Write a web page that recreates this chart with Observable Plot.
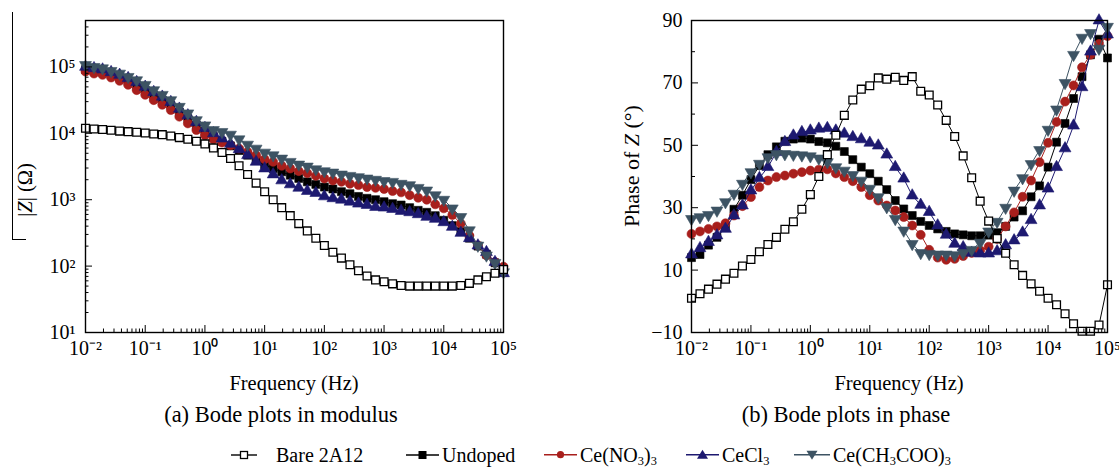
<!DOCTYPE html>
<html>
<head>
<meta charset="utf-8">
<script src="https://cdn.jsdelivr.net/npm/d3@7"></script>
<script src="https://cdn.jsdelivr.net/npm/@observablehq/plot@0.6"></script>
<style>
  body { margin: 0; background: #fff; }
  #wrap { position: relative; width: 1119px; height: 468px; overflow: hidden; background: #fff;
          font-family: "Liberation Serif", "Times New Roman", serif; color: #000; }
  .abs { position: absolute; white-space: nowrap; line-height: 1.2; }
  .ctr { transform: translate(-50%, -50%); }
  .rot { transform: translate(-50%, -50%) rotate(-90deg); }
  .lab { font-size: 20.5px; }
  .cap { font-size: 22.5px; }
  .leg { position: absolute; display: flex; align-items: center; font-size: 20px; line-height: 1.2; white-space: nowrap; transform: translateY(-50%); }
  .leg svg { display: block; }
  sub { font-size: 0.62em; vertical-align: -0.28em; line-height: 0.9; }
</style>
</head>
<body>
<div id="wrap">
  <div id="pa" class="abs" style="left:0;top:0"></div>
  <div id="pb" class="abs" style="left:600px;top:0"></div>

  <div class="abs" style="left:12px;top:12px;height:227px;border-left:1.3px solid #000"></div>
  <div class="abs" style="left:12px;top:239px;width:14px;border-top:1.3px solid #000"></div>
  <div class="abs rot lab" style="left:25px;top:190px">|<i>Z</i>| (Ω)</div>
  <div class="abs rot" style="left:632px;top:166px;font-size:22px">Phase of <i>Z</i> (°)</div>

  <div class="abs ctr lab" style="left:294px;top:383px">Frequency (Hz)</div>
  <div class="abs ctr lab" style="left:899px;top:383px">Frequency (Hz)</div>
  <div class="abs ctr cap" style="left:281px;top:414px">(a) Bode plots in modulus</div>
  <div class="abs ctr cap" style="left:846px;top:414px">(b) Bode plots in phase</div>

  <div id="legend"></div>
</div>
<script>
// ---------------- data ----------------
const freq = [
  0.01, 0.01389, 0.01931, 0.02683, 0.03728, 0.05179, 0.07197,
  0.1, 0.1389, 0.1931, 0.2683, 0.3728, 0.5179, 0.7197,
  1, 1.389, 1.931, 2.683, 3.728, 5.179, 7.197,
  10, 13.89, 19.31, 26.83, 37.28, 51.79, 71.97,
  100, 138.9, 193.1, 268.3, 372.8, 517.9, 719.7,
  1000, 1389, 1931, 2683, 3728, 5179, 7197,
  10000, 13890, 19310, 26830, 37280, 51790, 71970,
  100000
];

const seriesNames = ["Bare 2A12", "Undoped", "Ce(NO3)3", "CeCl3", "Ce(CH3COO)3"];

// |Z| (Ohm)
const modulusBare = [11900, 11600, 11400, 11100, 10800, 10600, 10350, 10100, 9770, 9550,
  9120, 8610, 8130, 7590, 6920, 6030, 5130, 4170, 3240, 2400,
  1780, 1320, 1000, 759, 575, 437, 339, 263, 204, 162,
  132, 105, 85, 71, 62, 58, 54, 51, 50, 50,
  50, 50, 50, 50, 51, 55, 62, 69, 78, 89];
const modulusUndoped = [91200, 87100, 83200, 75900, 69200, 60300, 52500, 44700, 37200, 31600,
  26300, 20900, 16600, 13200, 10700, 8910, 7590, 6460, 5500, 4680,
  3980, 3390, 2950, 2630, 2340, 2090, 1860, 1700, 1550, 1450,
  1320, 1230, 1120, 1050, 1000, 933, 871, 832, 759, 692,
  646, 575, 490, 407, 331, 263, 200, 151, 112, 81];
const modulusNO3 = [85100, 79400, 75900, 69200, 61700, 53700, 44700, 38000, 31600, 26900,
  22400, 17800, 14100, 11200, 9330, 8130, 7240, 6610, 5890, 5250,
  4680, 4070, 3720, 3240, 2950, 2690, 2510, 2290, 2090, 1950,
  1860, 1740, 1660, 1550, 1510, 1450, 1350, 1290, 1170, 1070,
  1000, 851, 741, 589, 437, 288, 204, 145, 115, 98];
const modulusCl = [100000, 95500, 91200, 83200, 75900, 67600, 58900, 50100, 41700, 35500,
  29500, 23400, 18600, 14800, 12000, 10000, 8320, 6920, 5750, 4680,
  3720, 2950, 2400, 1950, 1700, 1510, 1350, 1260, 1120, 1050,
  1000, 933, 871, 832, 776, 759, 724, 676, 646, 603,
  550, 513, 457, 389, 316, 263, 204, 162, 115, 78];
const modulusAc = [107000, 100000, 95500, 87100, 79400, 70800, 63100, 53700, 44700, 38000,
  31600, 25100, 20000, 15800, 13200, 11200, 10500, 9550, 8130, 6760,
  5890, 5130, 4680, 4170, 3720, 3390, 3160, 2880, 2690, 2570,
  2400, 2290, 2190, 2090, 2000, 1910, 1860, 1740, 1660, 1510,
  1380, 1170, 1000, 741, 550, 347, 204, 145, 112, 81];

// Phase of Z (degrees)
const phaseBare = [1.0, 2.4, 3.9, 5.5, 7.1, 9.0, 11.3, 13.4, 15.9, 18.2,
  20.5, 23.1, 25.5, 29.5, 34.2, 40.0, 47.0, 53.2, 59.6, 64.5,
  68.0, 69.1, 71.6, 71.2, 71.8, 70.8, 72.0, 67.3, 66.1, 62.9,
  58.0, 52.8, 46.6, 39.6, 32.1, 25.7, 20.1, 15.4, 11.7, 8.3,
  5.6, 3.2, 1.0, -1.1, -4.0, -7.2, -9.6, -9.6, -7.6, 5.3];
const phaseUndoped = [14, 15, 18, 20.5, 24, 29.5, 34, 39, 43.5, 47,
  49.5, 51.3, 52, 52.3, 52, 51.2, 50.8, 49.7, 48, 45.4,
  43, 40.9, 38.5, 35.8, 32.3, 29.6, 27.5, 25.6, 24.3, 23.2,
  22.4, 21.6, 21.3, 21, 21, 21.2, 22, 24, 27, 29,
  33.5, 37, 43, 51, 57, 65, 72, 79, 84, 78];
const phaseNO3 = [21.6, 22.4, 23.2, 24.0, 25.0, 27.5, 30.5, 33.4, 36.6, 38.7,
  39.8, 40.3, 40.9, 41.4, 41.9, 42.2, 42.3, 41.0, 39.8, 38.5,
  36.6, 34.0, 32.3, 30.7, 29.1, 27.0, 24.3, 21.3, 16.5, 14.0,
  13.3, 13.6, 14.5, 15.5, 16.3, 17.5, 20.0, 24.0, 28.5, 33.5,
  38.7, 44.6, 50.8, 57.5, 64.0, 69.2, 75.0, 79.0, 82.5, 85.0];
const phaseCl = [15.0, 17.0, 19.0, 21.1, 23.2, 27.5, 30.7, 35.5, 39.5, 43.0,
  47.8, 51.0, 53.1, 54.2, 54.7, 55.3, 55.5, 54.7, 53.7, 52.6,
  51.9, 50.8, 49.9, 47.0, 43.0, 39.3, 33.9, 30.9, 28.6, 24.3,
  21.3, 18.4, 17.3, 15.5, 15.3, 15.3, 16.0, 17.9, 19.5, 22.0,
  26.0, 30.7, 36.1, 43.0, 49.0, 56.3, 68.6, 80.0, 90.0, 85.5];
const phaseAc = [26.4, 27.0, 27.7, 29.1, 31.8, 34.5, 37.7, 41.4, 44.1, 46.2,
  47.2, 47.2, 47.0, 46.8, 46.5, 45.8, 44.6, 43.0, 41.9, 40.5,
  38.7, 36.1, 33.4, 30.2, 26.4, 22.7, 18.4, 15.5, 15.2, 15.0,
  15.0, 14.8, 15.5, 16.5, 18.8, 22.4, 25.5, 30.0, 35.5, 39.5,
  44.0, 48.5, 55.0, 61.5, 70.0, 79.0, 84.5, 86.0, 81.0, 88.0];

// ticks
const xTickValues = [0.01, 0.1, 1, 10, 100, 1000, 10000, 100000];
const xTickLabels = ["10⁻²", "10⁻¹", "10⁰", "10¹", "10²", "10³", "10⁴", "10⁵"];
const modTickValues = [10, 100, 1000, 10000, 100000];
const modTickLabels = ["10¹", "10²", "10³", "10⁴", "10⁵"];
const phaseTickValues = [-10, 10, 30, 50, 70, 90];
const phaseTickLabels = ["−10", "10", "30", "50", "70", "90"];
const phaseMinorValues = [0, 20, 40, 60, 80];

// ---------------- styles ----------------
const RED = "#a81f1c", NAVY = "#1d1970", SLATE = "#3d5363";
const seriesColors = ["#000", "#000", RED, NAVY, SLATE];
const triangleDown = {
  draw(context, size) {
    const y = Math.sqrt(size / (3 * Math.sqrt(3)));
    context.moveTo(0, 2 * y);
    context.lineTo(-Math.sqrt(3) * y, -y);
    context.lineTo(Math.sqrt(3) * y, -y);
    context.closePath();
  }
};
const markerStyles = [
  {symbol: "square", fill: "#fff", stroke: "#000", strokeWidth: 1.3, r: 4.4},
  {symbol: "square", fill: "#000", stroke: "#000", strokeWidth: 0.6, r: 4.5},
  {symbol: "circle", fill: RED, stroke: RED, strokeWidth: 0.6, r: 4.5},
  {symbol: "triangle", fill: NAVY, stroke: NAVY, strokeWidth: 0.6, r: 4.4},
  {symbol: triangleDown, fill: SLATE, stroke: SLATE, strokeWidth: 0.6, r: 4.4}
];
const drawOrder = [1, 2, 3, 4, 0];

const mult = [2, 3, 4, 5, 6, 7, 8, 9];
const xMinor = xTickValues.slice(0, -1).flatMap(d => mult.map(k => +(d * k).toPrecision(3)));
const modMinor = modTickValues.flatMap(d => mult.map(k => d * k)).filter(v => v <= 5e5);

function seriesMarks(valuesBySeries) {
  return drawOrder.flatMap(k => {
    const rows = freq.map((f, i) => ({f, v: valuesBySeries[k][i], s: seriesNames[k]}));
    return [
      Plot.line(rows, {x: "f", y: "v", stroke: seriesColors[k], strokeWidth: 1}),
      Plot.dot(rows, {x: "f", y: "v", ...markerStyles[k]})
    ];
  });
}

function xAxes() {
  return [
    Plot.axisX(xMinor, {tickSize: -3.5, fill: "none", label: null}),
    Plot.axisX(xTickValues, {tickSize: -7, tickPadding: 15, label: null,
      tickFormat: d => xTickLabels[xTickValues.indexOf(d)]})
  ];
}

const plotStyle = {fontFamily: "'Liberation Serif', 'Times New Roman', serif", fontSize: "20px", background: "transparent", overflow: "visible"};

const chartA = Plot.plot({
  width: 560, height: 360,
  marginLeft: 85, marginRight: 57, marginTop: 20, marginBottom: 28,
  style: plotStyle,
  x: {type: "log", domain: [0.01, 1e5]},
  y: {type: "log", domain: [10, 5e5]},
  marks: [
    ...seriesMarks([modulusBare, modulusUndoped, modulusNO3, modulusCl, modulusAc]),
    ...xAxes(),
    Plot.axisY(modMinor, {tickSize: -3.5, fill: "none", label: null}),
    Plot.axisY(modTickValues, {tickSize: -7, tickPadding: 17, label: null,
      tickFormat: d => modTickLabels[modTickValues.indexOf(d)]}),
    Plot.frame({stroke: "#000", strokeWidth: 1.4})
  ]
});
document.getElementById("pa").appendChild(chartA);

const chartB = Plot.plot({
  width: 519, height: 360,
  marginLeft: 91, marginRight: 12, marginTop: 20, marginBottom: 28,
  style: plotStyle,
  x: {type: "log", domain: [0.01, 1e5]},
  y: {domain: [-10, 90]},
  marks: [
    ...seriesMarks([phaseBare, phaseUndoped, phaseNO3, phaseCl, phaseAc]),
    ...xAxes(),
    Plot.axisY(phaseMinorValues, {tickSize: -4, fill: "none", label: null}),
    Plot.axisY(phaseTickValues, {tickSize: -7, tickPadding: 16, label: null,
      tickFormat: d => phaseTickLabels[phaseTickValues.indexOf(d)]}),
    Plot.frame({stroke: "#000", strokeWidth: 1.4})
  ]
});
document.getElementById("pb").appendChild(chartB);

// ---------------- legend ----------------
const legendLabels = ["Bare 2A12", "Undoped", "Ce(NO<sub>3</sub>)<sub>3</sub>", "CeCl<sub>3</sub>", "Ce(CH<sub>3</sub>COO)<sub>3</sub>"];
const legendLeft = [231, 406, 544, 686, 794];
const legendSwatchW = [26, 33, 33, 33, 36];
const legendGap = [19, 3, 3, 3, 3];
function swatch(k, w) {
  const c = w / 2, cy = 8;
  let m = "";
  if (k === 0) m = `<rect x="${c - 3.5}" y="${cy - 3.5}" width="7" height="7" fill="#fff" stroke="#000" stroke-width="1.3"/>`;
  if (k === 1) m = `<rect x="${c - 4}" y="${cy - 4}" width="8" height="8" fill="#000"/>`;
  if (k === 2) m = `<circle cx="${c}" cy="${cy}" r="3.6" fill="${RED}"/>`;
  if (k === 3) m = `<path d="M${c},${cy - 5} L${c + 5.5},${cy + 4} L${c - 5.5},${cy + 4}Z" fill="${NAVY}"/>`;
  if (k === 4) m = `<path d="M${c},${cy + 5} L${c + 5.5},${cy - 4} L${c - 5.5},${cy - 4}Z" fill="${SLATE}"/>`;
  return `<svg width="${w}" height="16" style="margin-right:${legendGap[k]}px"><line x1="0" x2="${w}" y1="${cy}" y2="${cy}" stroke="${seriesColors[k]}" stroke-width="1.4"/>${m}</svg>`;
}
const legend = document.getElementById("legend");
seriesNames.forEach((name, k) => {
  const item = document.createElement("div");
  item.className = "leg";
  item.style.left = legendLeft[k] + "px";
  item.style.top = "455px";
  item.innerHTML = swatch(k, legendSwatchW[k]) + `<span>${legendLabels[k]}</span>`;
  legend.appendChild(item);
});
</script>
</body>
</html>
